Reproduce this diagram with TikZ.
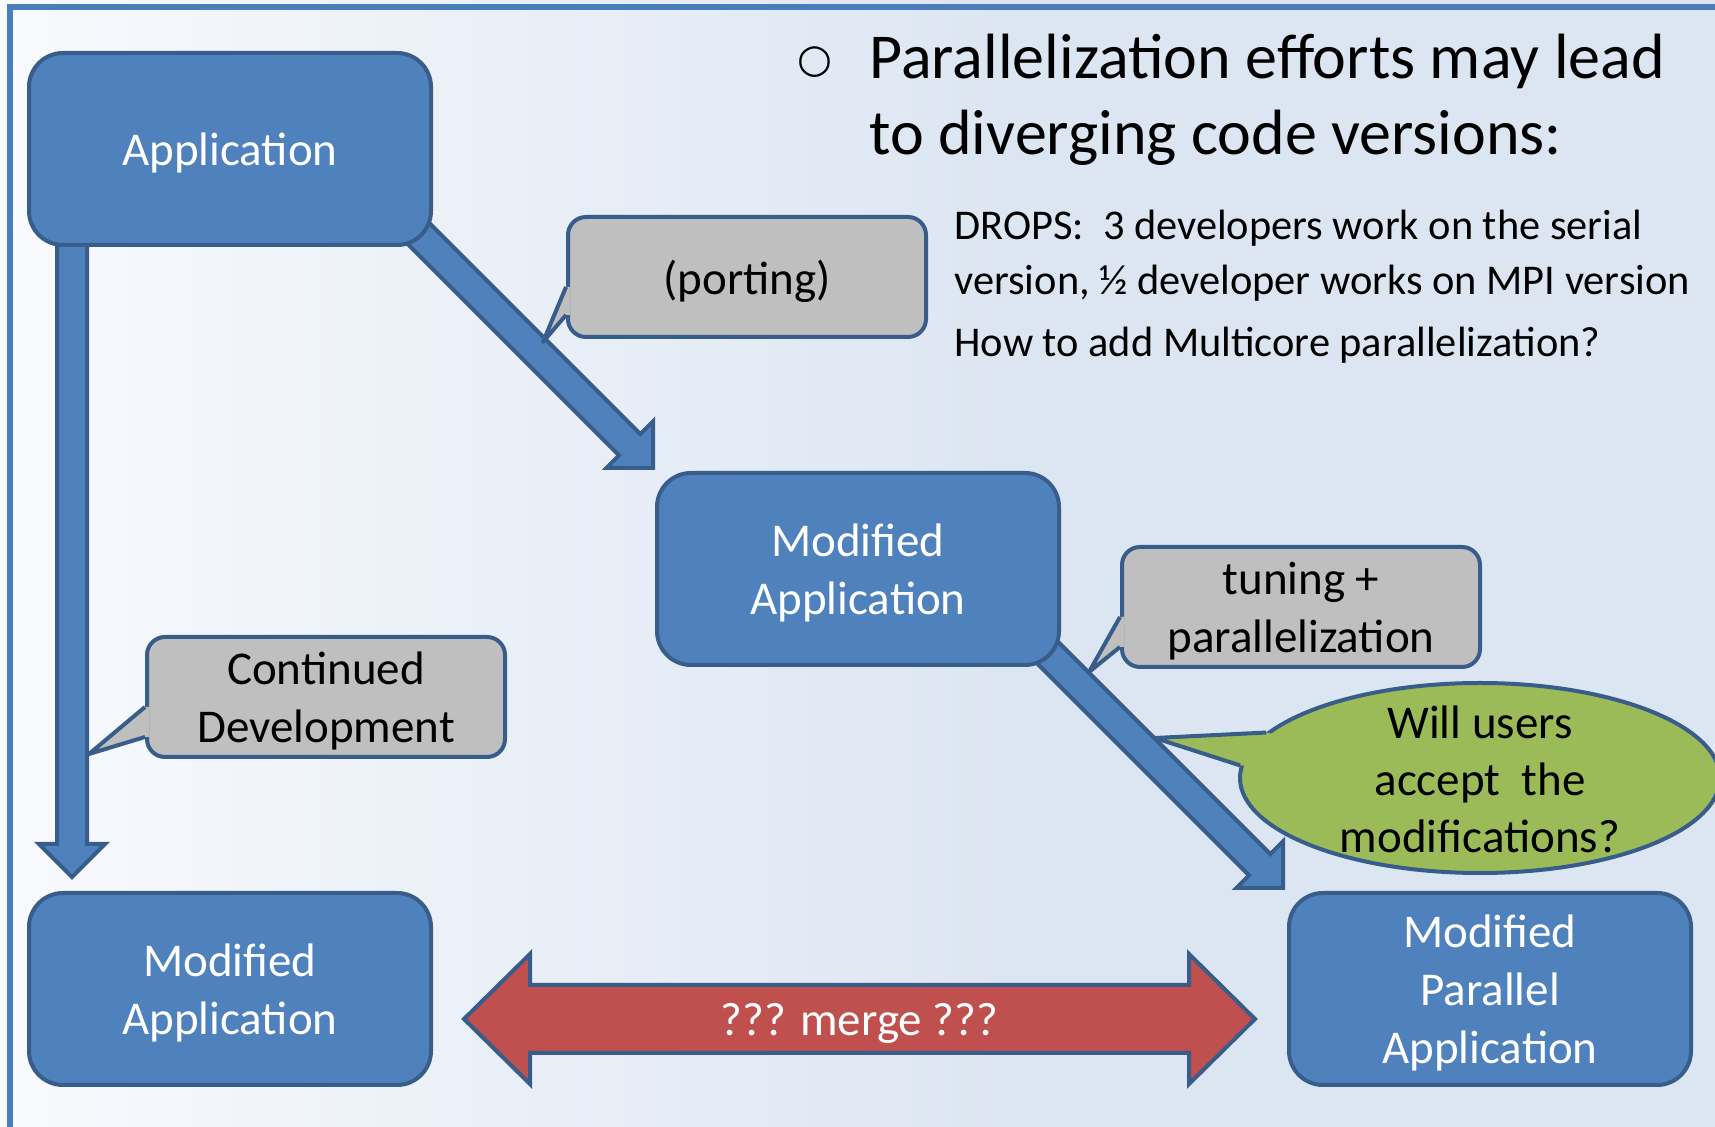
\documentclass[tikz,border=0pt]{standalone}
\usepackage{fontspec}
\setmainfont{Carlito}
\newfontfamily\symfont{DejaVu Sans}
\usetikzlibrary{shapes.geometric, calc, positioning}
\definecolor{appblue}{RGB}{79,129,189}
\definecolor{edgeblue}{RGB}{56,93,138}
\definecolor{notegray}{RGB}{191,191,191}
\definecolor{askgreen}{RGB}{155,187,89}
\definecolor{mergered}{RGB}{192,80,77}
\definecolor{bgleft}{RGB}{248,250,253}
\definecolor{bgright}{RGB}{220,230,242}
\definecolor{frameblue}{RGB}{74,126,187}

\tikzset{
  appbox/.style={draw=edgeblue, fill=appblue, line width=2pt, rounded corners=17pt,
    minimum width=201pt, minimum height=96pt, inner sep=0pt, align=center, text depth=0pt,
    text=white, font=\fontsize{23.5}{29}\selectfont},
  notebox/.style={draw=edgeblue, fill=notegray, line width=2pt, rounded corners=9pt,
    minimum width=179pt, minimum height=60pt, inner sep=0pt, align=center, text depth=0pt,
    font=\fontsize{23.5}{29}\selectfont},
  fatarrow/.style={draw=edgeblue, fill=appblue, line width=2pt, line join=miter},
  notetail/.style={draw=edgeblue, line width=2pt, line join=round},
}

% block arrow: tip, angle, length
\newcommand{\fatarrow}[3]{%
  \begin{scope}[shift={(#1)}, rotate=#2]
    \draw[fatarrow] (0,0) -- (-33,33) -- (-33,15) -- (-#3,15) -- (-#3,-15) -- (-33,-15) -- (-33,-33) -- cycle;
  \end{scope}}

% callout tail on the left side: node, tip, upper offset, lower offset
\newcommand{\tail}[4]{%
  \fill[notegray] ($(#1.west)+(4,#3)$) -- ($(#1.west)+(0,#3)$) -- (#2) -- ($(#1.west)+(0,#4)$) -- ($(#1.west)+(4,#4)$) -- cycle;
  \draw[notetail] ($(#1.west)+(0,#3)$) -- (#2) -- ($(#1.west)+(0,#4)$);}

\begin{document}
\begin{tikzpicture}[x=0.5pt, y=-0.5pt]
    \useasboundingbox (0,0) rectangle (1715,1127);

    % Background and frame
    \fill[bgright] (0,0) rectangle (1715,1127);
    \shade[left color=bgleft, right color=bgright] (0,0) rectangle (1000,1127);
    \draw[frameblue, line width=3pt] (10,1127) -- (10,7) -- (1715,7);

    % Heading
    \node[font=\symfont\fontsize{20}{24}\selectfont] (bullet) at (815,62) {○};
    \node[anchor=north west, align=left, inner sep=0pt, font=\fontsize{32}{38}\selectfont]
        (title) at (869,34) {Parallelization efforts may lead\\to diverging code versions:};
    \node[anchor=north west, align=left, inner sep=0pt, font=\fontsize{21.2}{27.5}\selectfont]
        (drops) at (954,210) {DROPS:\ \ 3 developers work on the serial\\version, ½ developer works on MPI version\\[3.5pt]How to add Multicore parallelization?};

    % Arrows (behind the boxes)
    \coordinate (tipdev) at (72,877);
    \coordinate (tipport) at (653,468);
    \coordinate (tippar) at (1283,888);
    \fatarrow{tipdev}{-90}{640}
    \fatarrow{tipport}{-45}{360}
    \fatarrow{tippar}{-45}{350}

    % Boxes
    \node[appbox] (app) at (230,149) {Application};
    \node[appbox] (modmid) at (858,569) {Modified\\Application};
    \node[appbox] (modl) at (230,989) {Modified\\Application};
    \node[appbox] (modpar) at (1490,989) {Modified\\Parallel\\Application};

    % Callouts
    \node[notebox] (port) at (747,277) {(porting)};
    \coordinate (porttip) at (543,342);
    \tail{port}{porttip}{10}{38}

    \node[notebox] (contdev) at (326,697) {Continued\\Development};
    \coordinate (devtip) at (89,754);
    \tail{contdev}{devtip}{10}{40}

    \node[notebox] (tune) at (1301,607) {tuning +\\parallelization};
    \coordinate (tunetip) at (1089,672);
    \tail{tune}{tunetip}{10}{40}

    % Question bubble
    \node[ellipse, draw=edgeblue, fill=askgreen, line width=2pt, minimum width=240pt,
        minimum height=95pt, inner sep=0pt] (ask) at (1480,778) {};
    \coordinate (asktip) at (1155,738);
    \fill[askgreen] ($(ask.168)!0.04!(ask.center)$) -- (ask.168) -- (asktip) -- (ask.177) -- ($(ask.177)!0.04!(ask.center)$) -- cycle;
    \draw[notetail] (ask.168) -- (asktip) -- (ask.177);
    \node[align=center, inner sep=0pt, font=\fontsize{23.5}{28.5}\selectfont]
        (asktext) at (1480,779) {Will users\\accept\ \ the\\modifications?};

    % Merge arrow
    \coordinate (mergel) at (464,1019);
    \coordinate (merger) at (1255,1019);
    \draw[draw=edgeblue, fill=mergered, line width=2pt, line join=miter]
        (mergel) -- ($(mergel)+(66,-65)$) -- ($(mergel)+(66,-34)$) -- ($(merger)+(-66,-34)$)
        -- ($(merger)+(-66,-65)$) -- (merger) -- ($(merger)+(-66,65)$) -- ($(merger)+(-66,34)$)
        -- ($(mergel)+(66,34)$) -- ($(mergel)+(66,65)$) -- cycle;
    \node[text=white, text depth=0pt, font=\fontsize{23.5}{29}\selectfont] (merge) at ($(mergel)!0.5!(merger)$) {??? merge ???};
\end{tikzpicture}
\end{document}
